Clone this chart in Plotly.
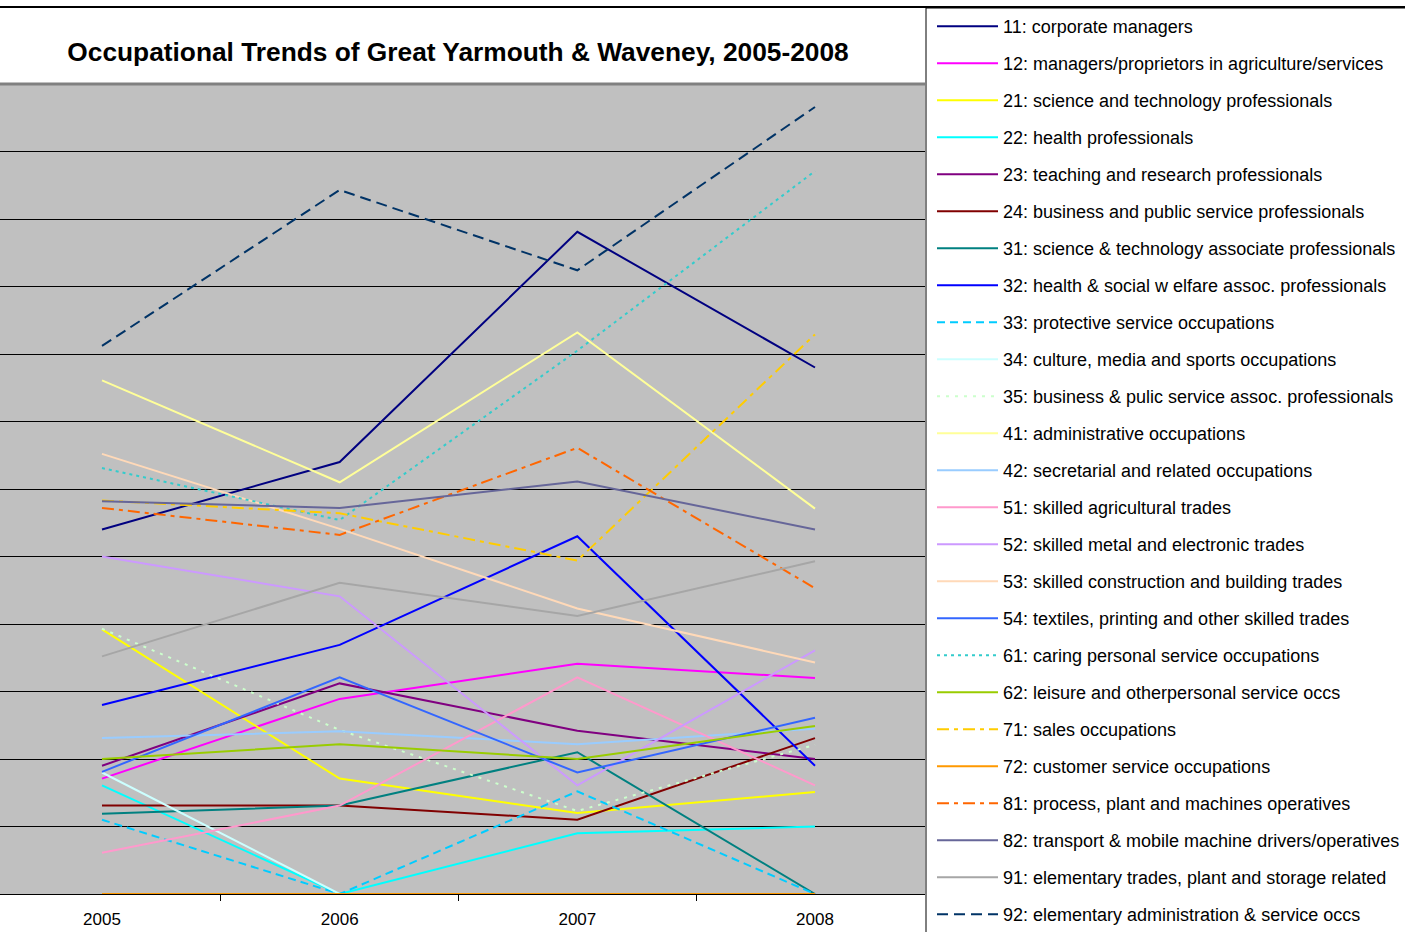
import plotly.graph_objects as go

years = ["2005", "2006", "2007", "2008"]

names = [
    "11: corporate managers",
    "12: managers/proprietors in agriculture/services",
    "21: science and technology professionals",
    "22: health professionals",
    "23: teaching and research professionals",
    "24: business and public service professionals",
    "31: science & technology associate professionals",
    "32: health & social w elfare assoc. professionals",
    "33: protective service occupations",
    "34: culture, media and sports occupations",
    "35: business & pulic service assoc. professionals",
    "41: administrative occupations",
    "42: secretarial and related occupations",
    "51: skilled agricultural trades",
    "52: skilled metal and electronic trades",
    "53: skilled construction and building trades",
    "54: textiles, printing and other skilled trades",
    "61: caring personal service occupations",
    "62: leisure and otherpersonal service occs",
    "71: sales occupations",
    "72: customer service occupations",
    "81: process, plant and machines operatives",
    "82: transport & mobile machine drivers/operatives",
    "91: elementary trades, plant and storage related",
    "92: elementary administration & service occs",
]

v11 = [5.40, 6.40, 9.81, 7.80]
v12 = [1.71, 2.89, 3.41, 3.20]
v21 = [3.92, 1.71, 1.20, 1.51]
v22 = [1.61, 0.00, 0.90, 1.00]
v23 = [1.90, 3.12, 2.42, 2.00]
v24 = [1.31, 1.31, 1.10, 2.31]
v31 = [1.19, 1.31, 2.10, 0.00]
v32 = [2.80, 3.69, 5.30, 1.90]
v33 = [1.10, 0.00, 1.52, 0.00]
v34 = [1.80, 0.00, 0.00, 0.00]
v35 = [3.93, 2.43, 1.23, 2.21]
v41 = [7.61, 6.10, 8.32, 5.71]
v42 = [2.31, 2.41, 2.22, 2.45]
v51 = [0.61, 1.31, 3.21, 1.61]
v52 = [5.00, 4.41, 1.61, 3.61]
v53 = [6.52, 5.41, 4.23, 3.43]
v54 = [1.81, 3.21, 1.80, 2.61]
v61 = [6.31, 5.54, 8.05, 10.71]
v62 = [2.00, 2.22, 2.00, 2.49]
v71 = [5.83, 5.64, 4.94, 8.29]
v72 = [0.00, 0.00, 0.00, 0.00]
v81 = [5.72, 5.32, 6.61, 4.53]
v82 = [5.82, 5.72, 6.11, 5.40]
v91 = [3.52, 4.61, 4.12, 4.93]
v92 = [8.12, 10.43, 9.24, 11.66]

values = [v11, v12, v21, v22, v23, v24, v31, v32, v33, v34, v35, v41, v42,
          v51, v52, v53, v54, v61, v62, v71, v72, v81, v82, v91, v92]

colors = ["#000080", "#FF00FF", "#FFFF00", "#00FFFF", "#800080", "#800000",
          "#008080", "#0000FF", "#00CCFF", "#CCFFFF", "#CCFFCC", "#FFFF99",
          "#99CCFF", "#FF99CC", "#CC99FF", "#FFD9B8", "#3366FF", "#33CCCC",
          "#99CC00", "#FFCC00", "#FF9900", "#FF6600", "#666699", "#A6A6A6",
          "#003366"]

dashes = ["solid", "solid", "solid", "solid", "solid", "solid",
          "solid", "solid", "8px,5px", "solid", "3px,6px", "solid",
          "solid", "solid", "solid", "solid", "solid", "3px,4px",
          "solid", "12px,5px,4px,5px", "solid", "12px,5px,4px,5px", "solid", "solid",
          "11px,6px"]

xs = list(range(len(years)))

fig = go.Figure()
for name, vals, col, dsh in zip(names, values, colors, dashes):
    fig.add_trace(go.Scatter(
        x=xs, y=vals, mode="lines", name=name, legendgroup=name,
        line=dict(color=col, width=2, dash=dsh),
        hoverinfo="skip",
    ))

W, H = 1405, 932
L, R, T, B = 0, 480, 84, 38
plot_w = W - L - R
plot_h = H - T - B


def px_x(p):
    return (p - L) / plot_w


def px_y(p):
    return (H - B - p) / plot_h


fig.update_layout(
    width=W, height=H,
    margin=dict(l=L, r=R, t=T, b=B, pad=0, autoexpand=False),
    paper_bgcolor="white",
    plot_bgcolor="#C0C0C0",
    font=dict(family="Liberation Sans, Arial, sans-serif", color="black"),
    title=dict(
        text="<b>Occupational Trends of Great Yarmouth &amp; Waveney, 2005-2008</b>",
        x=px_x(458), xref="paper", xanchor="center",
        y=1 - 52 / H, yref="container", yanchor="middle",
        font=dict(size=26.3, color="black"),
    ),
    xaxis=dict(
        range=[-102 / 237.67, 3 + 110 / 237.67],
        tickmode="array", tickvals=xs, ticktext=years,
        ticks="", showgrid=False, zeroline=False,
        showline=True, linecolor="black", linewidth=1,
        tickfont=dict(size=17),
        ticklabelstandoff=10,
        minor=dict(tickmode="array", tickvals=[0.5, 1.5, 2.5], ticks="outside",
                   ticklen=6, tickcolor="black", tickwidth=1, showgrid=False),
        fixedrange=True,
    ),
    yaxis=dict(
        range=[0, 12], dtick=1, showticklabels=False, ticks="",
        showgrid=True, gridcolor="black", gridwidth=1,
        zeroline=False, showline=False, fixedrange=True,
    ),
    legend=dict(
        x=px_x(932), xanchor="left",
        y=px_y(8), yanchor="top",
        bgcolor="rgba(0,0,0,0)", borderwidth=0,
        font=dict(size=18),
        tracegroupgap=10.6,
        itemwidth=61,
        traceorder="grouped",
        maxheight=1.0,
    ),
    showlegend=True,
    shapes=[
        dict(type="rect", xref="paper", yref="paper",
             x0=px_x(926), x1=px_x(1420), y0=px_y(8), y1=px_y(960),
             line=dict(color="black", width=1), fillcolor="rgba(0,0,0,0)"),
        dict(type="line", xref="paper", yref="paper", x0=0, x1=1, y0=1, y1=1,
             line=dict(color="#808080", width=3)),
        dict(type="line", xref="paper", yref="paper", x0=0, x1=px_x(W),
             y0=px_y(7), y1=px_y(7),
             line=dict(color="black", width=2)),
    ],
)

fig.write_html(
    "out.html",
    config={"displayModeBar": False},
    post_script="document.body.style.margin='0';document.body.style.overflow='hidden';",
)
